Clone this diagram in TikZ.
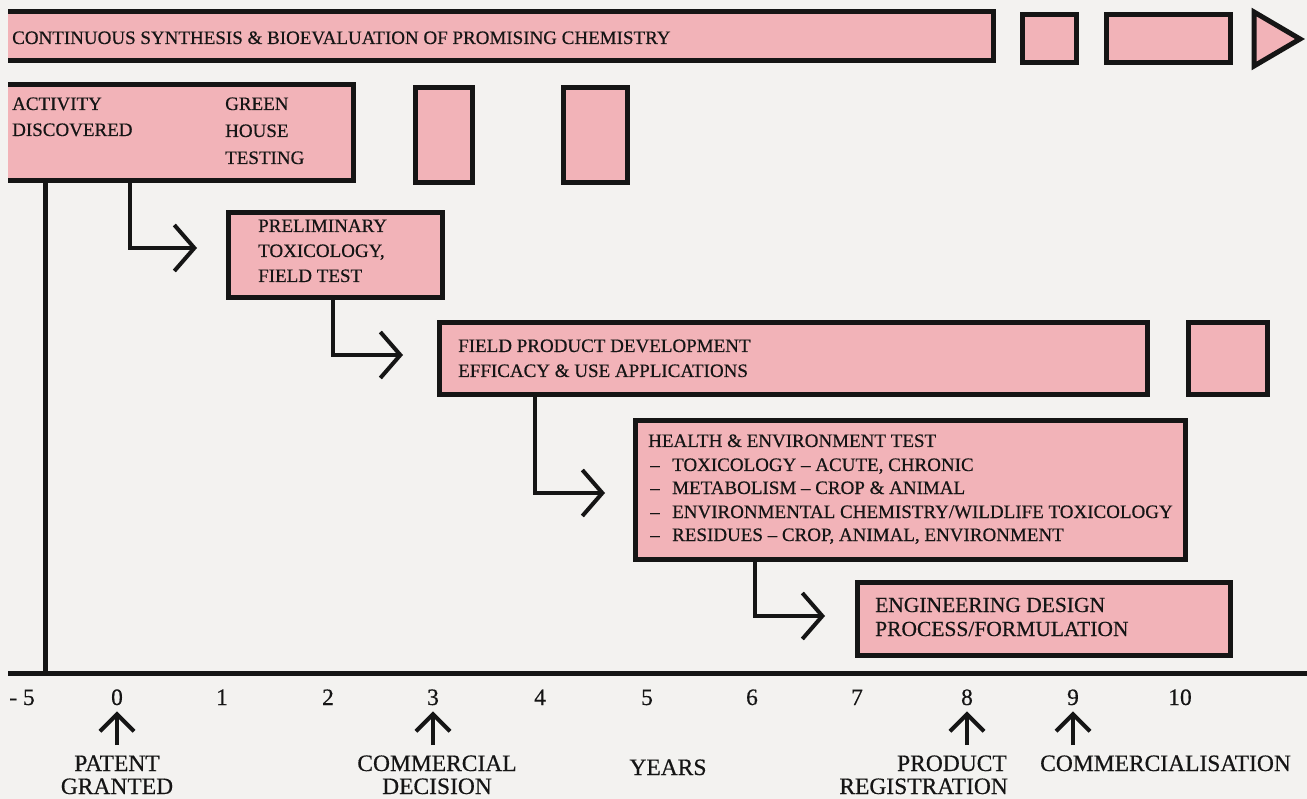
\documentclass[tikz,border=0pt]{standalone}
\usepackage{fontspec}
\setmainfont{Liberation Serif}[FakeBold=0.5]
\usetikzlibrary{arrows.meta}
\definecolor{pinkfill}{HTML}{F2B3B8}
\definecolor{ink}{HTML}{151515}
\definecolor{paper}{HTML}{F3F2F0}
\newcommand\hdash[1]{\makebox[22pt][l]{--}#1}
\begin{document}
\begin{tikzpicture}[x=1pt,y=-1pt,
  box/.style={fill=pinkfill, draw=ink, line width=5pt, inner sep=0pt, anchor=north west},
  openbox/.style={fill=pinkfill, draw=none, inner sep=0pt, anchor=north west},
  edge/.style={draw=ink, line width=5pt},
  txt/.style={text=ink, inner sep=0pt, anchor=base west, font=\fontsize{19}{22}\selectfont},
  conn/.style={draw=ink, line width=4pt, -{Straight Barb[length=20pt,width=46pt]}},
  uparr/.style={draw=ink, line width=4pt, -{Straight Barb[length=17pt,width=34pt]}},
  ax/.style={text=ink, inner sep=0pt, anchor=base, font=\fontsize{23.5}{26}\selectfont}]
\fill[paper] (0,0) rectangle (1307,799);
\useasboundingbox (0,0) rectangle (1307,799);

% top row
\node[openbox, minimum width=985pt, minimum height=48pt] (synth) at (8,12) {};
\draw[edge] (synth.north west) -- (synth.north east) -- (synth.south east) -- (synth.south west);
\node[box, minimum width=54pt, minimum height=48pt] (s2) at (1020,12) {};
\node[box, minimum width=124pt, minimum height=48pt] (s3) at (1104,12) {};
\filldraw[fill=pinkfill, draw=ink, line width=5pt] (1254,12) -- (1300,39) -- (1254,66) -- cycle;
\node[txt] (tsynth) at (12,44) {CONTINUOUS SYNTHESIS \& BIOEVALUATION OF PROMISING CHEMISTRY};

% second row
\node[openbox, minimum width=345pt, minimum height=95pt] (disc) at (8,85) {};
\draw[edge] (disc.north west) -- (disc.north east) -- (disc.south east) -- (disc.south west);
\node[box, minimum width=57pt, minimum height=95pt] (r2a) at (413,85) {};
\node[box, minimum width=64pt, minimum height=95pt] (r2b) at (561,85) {};
\node[txt] (t1) at (12,110) {ACTIVITY};
\node[txt] (t2) at (12,136) {DISCOVERED};
\node[txt] (t3) at (225,110) {GREEN};
\node[txt] (t4) at (225,137) {HOUSE};
\node[txt] (t5) at (225,164) {TESTING};

% axis and left vertical
\coordinate (axL) at (8,673);
\coordinate (axR) at (1307,673);
\draw[edge] (axL) -- (axR);
\coordinate (v0) at (45,180);
\draw[edge] (v0) -- (v0 |- axL);

% preliminary
\node[box, minimum width=214pt, minimum height=85pt] (prelim) at (226,210) {};
\node[txt] at (258,232) {PRELIMINARY};
\node[txt] at (258,257) {TOXICOLOGY,};
\node[txt] at (258,282) {FIELD TEST};
\coordinate (a1) at (197,248);
\draw[conn] ([xshift=122pt]disc.south west) |- (a1);

% field product
\node[box, minimum width=708pt, minimum height=72pt] (field) at (437,320) {};
\node[box, minimum width=79pt, minimum height=72pt] (fsmall) at (1186,320) {};
\node[txt] at (458,352) {FIELD PRODUCT DEVELOPMENT};
\node[txt] at (458,377) {EFFICACY \& USE APPLICATIONS};
\coordinate (a2) at (403,355);
\draw[conn] ([xshift=107pt]prelim.south west) |- (a2);

% health
\node[box, minimum width=550pt, minimum height=139pt] (health) at (633,418) {};
\node[txt] at (648,447) {HEALTH \& ENVIRONMENT TEST};
\node[txt] at (650,471) {\hdash{TOXICOLOGY -- ACUTE, CHRONIC}};
\node[txt] at (650,494) {\hdash{METABOLISM -- CROP \& ANIMAL}};
\node[txt] at (650,518) {\hdash{ENVIRONMENTAL CHEMISTRY/WILDLIFE TOXICOLOGY}};
\node[txt] at (650,541) {\hdash{RESIDUES -- CROP, ANIMAL, ENVIRONMENT}};
\coordinate (a3) at (605,493);
\draw[conn] ([xshift=98pt]field.south west) |- (a3);

% engineering
\node[box, minimum width=373pt, minimum height=73pt] (eng) at (855,580) {};
\node[txt, font=\fontsize{21.5}{24}\selectfont] at (875,612) {ENGINEERING DESIGN};
\node[txt, font=\fontsize{21.5}{24}\selectfont] at (875,636) {PROCESS/FORMULATION};
\coordinate (a4) at (825,616);
\draw[conn] ([xshift=122pt]health.south west) |- (a4);

% axis numbers
\node[ax] (nm5) at (22,705) {- 5};
\node[ax] (n0) at (117,705) {0};
\node[ax] (n1) at (222,705) {1};
\node[ax] (n2) at (328,705) {2};
\node[ax] (n3) at (433,705) {3};
\node[ax] (n4) at (540,705) {4};
\node[ax] (n5) at (647,705) {5};
\node[ax] (n6) at (752,705) {6};
\node[ax] (n7) at (857,705) {7};
\node[ax] (n8) at (967,705) {8};
\node[ax] (n9) at (1073,705) {9};
\node[ax] (n10) at (1180,705) {10};

% milestone arrows
\coordinate (b0) at (117,745);
\coordinate (b3) at (433,745);
\coordinate (b8) at (967,745);
\coordinate (b9) at (1073,745);
\draw[uparr] (b0) -- ([yshift=-6pt]n0.south);
\draw[uparr] (b3) -- ([yshift=-6pt]n3.south);
\draw[uparr] (b8) -- ([yshift=-6pt]n8.south);
\draw[uparr] (b9) -- ([yshift=-6pt]n9.south);

% milestone labels
\node[ax] (l0a) at (117,771) {PATENT};
\node[ax] (l0b) at (117,794) {GRANTED};
\node[ax] (l3a) at (437,771) {COMMERCIAL};
\node[ax] (l3b) at (437,794) {DECISION};
\node[ax] (yrs) at (668,775) {YEARS};
\node[ax, anchor=base east] (l8a) at (1007,771) {PRODUCT};
\node[ax, anchor=base east] (l8b) at (1008,794) {REGISTRATION};
\node[ax, anchor=base west] (l9) at (1040,771) {COMMERCIALISATION};
\end{tikzpicture}
\end{document}
